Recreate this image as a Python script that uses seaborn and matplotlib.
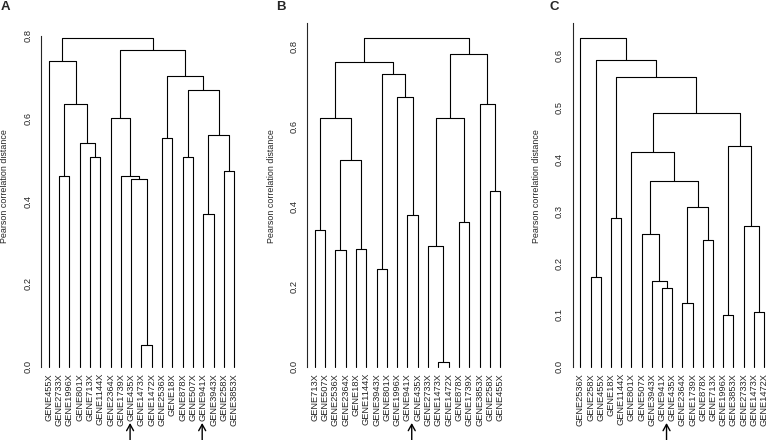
import pandas as pd
import matplotlib
matplotlib.use("Agg")
import matplotlib.pyplot as plt
import seaborn as sns

# leaf order as drawn, and merges as (left, right, height);
# a string is a leaf, an int points to an earlier merge in the same list
leaves_a = ["GENE455X", "GENE2733X", "GENE1996X", "GENE801X", "GENE713X",
            "GENE1144X", "GENE2364X", "GENE1739X", "GENE435X", "GENE1473X",
            "GENE1472X", "GENE2536X", "GENE18X", "GENE878X", "GENE507X",
            "GENE941X", "GENE3943X", "GENE258X", "GENE3853X"]
merges_a = [("GENE1473X", "GENE1472X", 0.052), ("GENE435X", 0, 0.453),
            ("GENE1739X", 1, 0.461), ("GENE2364X", 2, 0.602),
            ("GENE2733X", "GENE1996X", 0.461), ("GENE713X", "GENE1144X", 0.507),
            ("GENE801X", 5, 0.540), (4, 6, 0.635), ("GENE455X", 7, 0.738),
            ("GENE2536X", "GENE18X", 0.554), ("GENE878X", "GENE507X", 0.507),
            ("GENE941X", "GENE3943X", 0.370), ("GENE258X", "GENE3853X", 0.472),
            (11, 12, 0.560), (10, 13, 0.670), (9, 14, 0.702), (3, 15, 0.766),
            (8, 16, 0.795)]
arrows_a = ["GENE435X", "GENE941X"]

leaves_b = ["GENE713X", "GENE507X", "GENE2536X", "GENE2364X", "GENE18X",
            "GENE1144X", "GENE3943X", "GENE801X", "GENE1996X", "GENE941X",
            "GENE435X", "GENE2733X", "GENE1473X", "GENE1472X", "GENE878X",
            "GENE1739X", "GENE3853X", "GENE258X", "GENE455X"]
merges_b = [("GENE713X", "GENE507X", 0.341), ("GENE2536X", "GENE2364X", 0.292),
            ("GENE18X", "GENE1144X", 0.295), (1, 2, 0.516), (0, 3, 0.623),
            ("GENE3943X", "GENE801X", 0.245), ("GENE941X", "GENE435X", 0.380),
            ("GENE1996X", 6, 0.675), (5, 7, 0.733), (4, 8, 0.763),
            ("GENE1473X", "GENE1472X", 0.012), ("GENE2733X", 10, 0.301),
            ("GENE878X", "GENE1739X", 0.361), (11, 12, 0.623),
            ("GENE258X", "GENE455X", 0.440), ("GENE3853X", 14, 0.658),
            (13, 15, 0.781), (9, 16, 0.8225)]
arrows_b = ["GENE941X"]

leaves_c = ["GENE2536X", "GENE258X", "GENE455X", "GENE18X", "GENE1144X",
            "GENE801X", "GENE507X", "GENE3943X", "GENE941X", "GENE435X",
            "GENE2364X", "GENE1739X", "GENE878X", "GENE713X", "GENE1996X",
            "GENE3853X", "GENE2733X", "GENE1473X", "GENE1472X"]
merges_c = [("GENE258X", "GENE455X", 0.173), ("GENE18X", "GENE1144X", 0.288),
            ("GENE941X", "GENE435X", 0.152), ("GENE3943X", 2, 0.1655),
            ("GENE507X", 3, 0.2556), ("GENE2364X", "GENE1739X", 0.1223),
            ("GENE878X", "GENE713X", 0.2446), (5, 6, 0.309), (4, 7, 0.358),
            ("GENE801X", 8, 0.4145), ("GENE1996X", "GENE3853X", 0.0992),
            ("GENE1473X", "GENE1472X", 0.105), ("GENE2733X", 11, 0.271),
            (10, 12, 0.4255), (9, 13, 0.489), (1, 14, 0.5587), (0, 15, 0.5915),
            ("GENE2536X", 16, 0.635)]
arrows_c = ["GENE941X"]

ticks_a = [0.0, 0.2, 0.4, 0.6, 0.8]
ticks_b = [0.0, 0.2, 0.4, 0.6, 0.8]
ticks_c = [0.0, 0.1, 0.2, 0.3, 0.4, 0.5, 0.6]

W, H = 769, 440


def dendro_segments(leaves, merges):
    pos = {name: i + 1 for i, name in enumerate(leaves)}
    node_x, node_h, rows = [], [], []

    def get(ref):
        if isinstance(ref, str):
            return pos[ref], 0.0
        return node_x[ref], node_h[ref]

    for k, (left, right, h) in enumerate(merges):
        xl, hl = get(left)
        xr, hr = get(right)
        for x, y in [(xl, hl), (xl, h), (xr, h), (xr, hr)]:
            rows.append({"seg": k, "x": x, "y": y})
        node_x.append((xl + xr) / 2)
        node_h.append(h)
    return pd.DataFrame(rows), pos


def draw_panel(fig, left_px, step_px, leaves, merges, ticks, arrows,
               arrow_shift, letter, letter_px, spine_top=None):
    top_px, zero_px = 22.7, 366.7
    n = len(leaves)
    pad = 0.04 * (n - 1)
    width_px = step_px * (n - 1 + 2 * pad)
    ax = fig.add_axes([left_px / W, 1 - zero_px / H,
                       width_px / W, (zero_px - top_px) / H])

    df, pos = dendro_segments(leaves, merges)
    sns.lineplot(data=df, x="x", y="y", units="seg", estimator=None,
                 sort=False, color="black", lw=0.8, ax=ax)
    for line in ax.lines:
        line.set_clip_on(False)

    hmax = max(m[2] for m in merges)
    ax.set_xlim(1 - pad, n + pad)
    ax.set_ylim(0, hmax * 1.046)

    ax.set_xticks(range(1, n + 1))
    ax.set_xticklabels(leaves, rotation=90, fontsize=6.7)
    ax.tick_params(axis="x", length=0, pad=4.6)

    ax.set_yticks(ticks)
    ax.set_yticklabels([f"{t:.1f}" for t in ticks], rotation=90,
                       va="center", fontsize=6.7)
    ax.tick_params(axis="y", length=3.6, width=0.8, pad=3.0)

    ax.set_xlabel("")
    ax.set_ylabel("Pearson correlation distance", fontsize=6.4)
    ax.yaxis.label.set_va("center")
    ax.yaxis.set_label_coords(-36.3 / width_px, (zero_px - 186) / (zero_px - top_px))

    sns.despine(ax=ax, bottom=True)
    ax.spines["left"].set_linewidth(0.8)
    if spine_top is not None:
        ax.spines["left"].set_bounds(0, spine_top)

    for g in arrows:
        ax.annotate("", xy=(pos[g] + arrow_shift, H - 423),
                    xytext=(pos[g] + arrow_shift, H - 440),
                    xycoords=("data", "figure pixels"),
                    textcoords=("data", "figure pixels"),
                    annotation_clip=False,
                    arrowprops=dict(arrowstyle="->,head_length=0.45,head_width=0.25",
                                    lw=1.0, color="black", shrinkA=0, shrinkB=0))

    fig.text(letter_px / W, 1 - 1.5 / H, letter, fontsize=9.5,
             fontweight="bold", ha="left", va="top")
    return ax


sns.set_style("white")
plt.rcParams["font.family"] = ["Liberation Sans", "DejaVu Sans"]

fig = plt.figure(figsize=(W / 100, H / 100), dpi=100)
draw_panel(fig, 41.3, 10.3, leaves_a, merges_a, ticks_a, arrows_a, -0.1,
           "A", 0.5, spine_top=0.8)
draw_panel(fig, 307.3, 10.3, leaves_b, merges_b, ticks_b, arrows_b, 0.42,
           "B", 276.5)
draw_panel(fig, 573.0, 10.2, leaves_c, merges_c, ticks_c, arrows_c, 0.45,
           "C", 549.5)

fig.savefig("out.png", dpi=100)
